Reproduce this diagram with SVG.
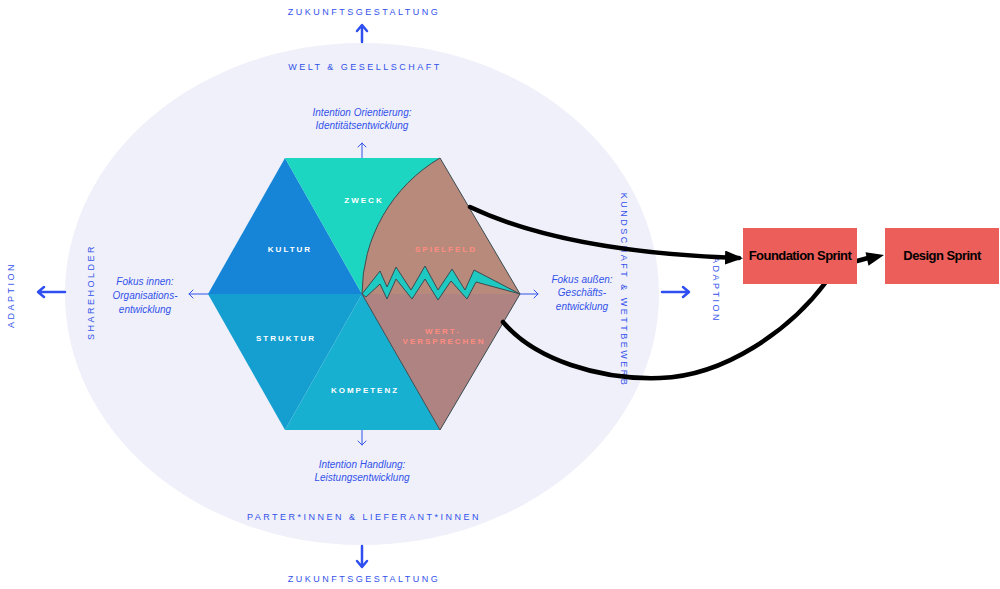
<svg xmlns="http://www.w3.org/2000/svg" width="1000" height="589" viewBox="0 0 1000 589">
  <style>
    .cap { font-family: "Liberation Sans", Arial, sans-serif; font-size: 9px; letter-spacing: 2.5px; fill: #3352ea; text-anchor: middle; }
    .it { font-family: "Liberation Sans", Arial, sans-serif; font-size: 10px; font-style: italic; fill: #3352ea; text-anchor: middle; }
    .seg { font-family: "Liberation Sans", Arial, sans-serif; font-size: 8px; font-weight: bold; letter-spacing: 2px; fill: #ffffff; text-anchor: middle; }
    .segr { font-family: "Liberation Sans", Arial, sans-serif; font-size: 8px; font-weight: bold; letter-spacing: 2px; fill: #ff8c80; text-anchor: middle; }
    .box { fill: #ec5e5a; }
    .boxt { font-family: "Liberation Sans", Arial, sans-serif; font-size: 13px; font-weight: bold; letter-spacing: -0.55px; fill: #000; text-anchor: middle; }
    .thick { stroke: #2f4ff0; stroke-width: 2.5; fill: none; stroke-linecap: round; stroke-linejoin: round; }
    .thin { stroke: #3352ea; stroke-width: 1; fill: none; stroke-linecap: round; stroke-linejoin: round; }
    .conn { stroke: #000; stroke-width: 4.5; fill: none; stroke-linecap: round; }
    .edge { stroke: #3c4c50; stroke-width: 1; stroke-linejoin: round; }
  </style>
  <defs>
    <marker id="bigHead" markerUnits="userSpaceOnUse" markerWidth="20" markerHeight="16" refX="14" refY="7" orient="auto">
      <path d="M0,0 L18,7 L0,14 z" fill="#000"/>
    </marker>
  </defs>
  <rect width="1000" height="589" fill="#ffffff"/>

  <g id="background">
    <ellipse cx="362" cy="294" rx="297" ry="251" fill="#eff0f9"/>
  </g>

  <g id="axes">
    <path class="thin" d="M362,143 L362,445 M189,294 L538,294"/>
    <path class="thin" d="M358,147 L362,143 L366,147"/>
    <path class="thin" d="M358,441 L362,445 L366,441"/>
    <path class="thin" d="M193,290 L189,294 L193,298"/>
    <path class="thin" d="M534,290 L538,294 L534,298"/>
    <path class="thick" d="M362,42 L362,26 M357,31 L362,25 L367,31"/>
    <path class="thick" d="M362,546 L362,566 M357,561 L362,567 L367,561"/>
    <path class="thick" d="M65,292 L38,292 M44,287 L38,292 L44,297"/>
    <path class="thick" d="M662,292 L689,292 M683,287 L689,292 L683,297"/>
  </g>

  <g id="hexagon">
    <polygon points="285,158 208,294 362,294" fill="#1785d7"/>
    <polygon points="285,158 440,158 362,294" fill="#1dd6c1"/>
    <polygon points="208,294 285,430 362,294" fill="#159fd0"/>
    <polygon points="285,430 440,430 362,294" fill="#17b0d1"/>
    <path d="M362,294 A158,158 0 0 1 440,158 L520,294 Z" fill="#b88a7c"/>
    <path d="M362,294 L520,294 L440,430 Z" fill="#ae8382"/>
    <path class="edge" fill="none" d="M362,294 A158,158 0 0 1 440,158 L520,294 L440,430 Z"/>
    <polygon class="edge" fill="#1dc9c0" points="362,294 380,271 387,287 396,267 411,290 425,266 438,290 452,269 465,290 474,270 520,294 476,282 467,299 451,281 438,300 425,279 412,299 396,279 387,299 380,284 366,297"/>
    <text class="seg" x="364" y="203">ZWECK</text>
    <text class="seg" x="290" y="252">KULTUR</text>
    <text class="seg" x="286" y="341">STRUKTUR</text>
    <text class="seg" x="365" y="393">KOMPETENZ</text>
    <text class="segr" x="446" y="252">SPIELFELD</text>
    <text class="segr" x="443" y="334">WERT-</text>
    <text class="segr" x="444" y="344">VERSPRECHEN</text>
  </g>

  <g id="labels">
    <text class="cap" x="364" y="14.5">ZUKUNFTSGESTALTUNG</text>
    <text class="cap" x="365" y="69.5">WELT &amp; GESELLSCHAFT</text>
    <text class="cap" x="364" y="519.5">PARTER*INNEN &amp; LIEFERANT*INNEN</text>
    <text class="cap" x="364" y="581.5">ZUKUNFTSGESTALTUNG</text>
    <text class="cap" transform="translate(14,295) rotate(-90)">ADAPTION</text>
    <text class="cap" transform="translate(94,292) rotate(-90)">SHAREHOLDER</text>
    <text class="cap" transform="translate(621,290) rotate(90)">KUNDSCHAFT &amp; WETTBEWERB</text>
    <text class="cap" transform="translate(713,290) rotate(90)">ADAPTION</text>
    <text class="it" x="362" y="115.5">Intention Orientierung:</text>
    <text class="it" x="362" y="128.5">Identitätsentwicklung</text>
    <text class="it" x="362" y="467.5">Intention Handlung:</text>
    <text class="it" x="362" y="481">Leistungsentwicklung</text>
    <text class="it" x="145" y="285">Fokus innen:</text>
    <text class="it" x="145" y="298.5">Organisations-</text>
    <text class="it" x="145" y="312.5">entwicklung</text>
    <text class="it" x="582" y="282.5">Fokus außen:</text>
    <text class="it" x="582" y="296">Geschäfts-</text>
    <text class="it" x="582" y="310">entwicklung</text>
  </g>

  <g id="connectors">
    <path class="conn" d="M470,207 Q565,252 739,258" marker-end="url(#bigHead)"/>
    <path class="conn" d="M503,322 C535,360 600,380 660,378 C725,376 790,330 826,282"/>
    <path class="conn" d="M857,261 L868,258"/>
    <polygon points="884,255 868.5,265.8 865.5,252.2" fill="#000"/>
  </g>

  <g id="foundation-sprint">
    <rect class="box" x="743" y="228" width="114" height="56"/>
    <text class="boxt" x="800" y="259.5">Foundation Sprint</text>
  </g>
  <g id="design-sprint">
    <rect class="box" x="885" y="228" width="114" height="56"/>
    <text class="boxt" x="942" y="259.5">Design Sprint</text>
  </g>
</svg>
